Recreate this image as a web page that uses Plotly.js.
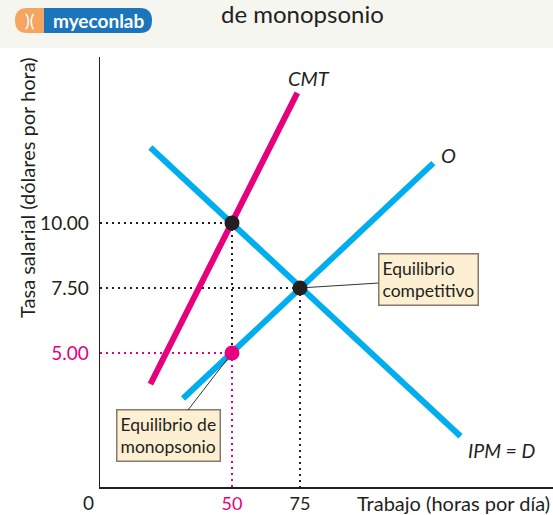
<!DOCTYPE html>
<html>
<head>
<meta charset="utf-8">
<script src="https://cdn.plot.ly/plotly-3.0.1.min.js"></script>
<style>
  body { margin: 0; background: #fff; }
  #chart { width: 553px; height: 515px; }
</style>
</head>
<body>
<div id="chart"></div>
<script>
// Curves (trabajo, salario)
var cmtX = [20, 74];
var cmtY = [3.8, 15];
var demX = [20, 134];
var demY = [12.9, 1.8];
var supX = [32, 124];
var supY = [3.25, 12.3];

// Equilibria
var eqX = [50, 75];
var eqY = [10, 7.5];
var monoX = [50];
var monoY = [5];

// Tick labels
var xTickVals = [50, 75];
var xTickText = ['<span style="color:#e6007e">50</span>', '75'];
var yTickVals = [5, 7.5, 10];
var yTickText = ['<span style="color:#e6007e">5.00</span>', '7.50', '10.00'];

var xRange = [1.47, 168];
var yRange = [-0.154, 16.38];

var blue = '#00aeef';
var pink = '#e6007e';
var ink = '#231f20';
var font = 'Lato, "Open Sans", sans-serif';

// plot area in pixels: l=100, t=57, w=453, h=430
function px(x) { return (x - 100) / 453; }
function py(y) { return (487 - y) / 430; }

function guide(xs, ys, color) {
  return {
    x: xs, y: ys, mode: 'lines', type: 'scatter', hoverinfo: 'skip',
    line: { color: color, width: 2, dash: '2px,4px' }, showlegend: false
  };
}

// text placed by pixel centre
function label(x, y, text, size, extra) {
  return Object.assign({
    xref: 'paper', yref: 'paper', x: px(x), y: py(y), xanchor: 'center', yanchor: 'middle',
    text: text, showarrow: false, font: { family: font, size: size, color: ink }
  }, extra || {});
}

var data = [
  // dotted guides
  guide([xRange[0], eqX[0]], [eqY[0], eqY[0]], ink),
  guide([eqX[0], eqX[0]], [eqY[0], monoY[0]], ink),
  guide([xRange[0], eqX[1]], [eqY[1], eqY[1]], ink),
  guide([eqX[1], eqX[1]], [eqY[1], yRange[0]], ink),
  guide([xRange[0], monoX[0]], [monoY[0], monoY[0]], pink),
  guide([monoX[0], monoX[0]], [monoY[0], yRange[0]], pink),
  // curves
  { x: cmtX, y: cmtY, mode: 'lines', type: 'scatter', line: { color: pink, width: 6 }, showlegend: false },
  { x: demX, y: demY, mode: 'lines', type: 'scatter', line: { color: blue, width: 6 }, showlegend: false },
  { x: supX, y: supY, mode: 'lines', type: 'scatter', line: { color: blue, width: 6 }, showlegend: false },
  // points
  { x: eqX, y: eqY, mode: 'markers', type: 'scatter', marker: { color: ink, size: 15 }, showlegend: false },
  { x: monoX, y: monoY, mode: 'markers', type: 'scatter', marker: { color: pink, size: 15 }, showlegend: false }
];

var boxStyle = {
  bgcolor: '#fdefd2', bordercolor: '#857a6b', borderwidth: 1.5, borderpad: 3,
  align: 'left', showarrow: true, arrowhead: 0, arrowwidth: 1, arrowcolor: '#333',
  font: { family: font, size: 17.5, color: ink }
};

var layout = {
  width: 553,
  height: 515,
  margin: { l: 100, r: 0, t: 57, b: 28 },
  paper_bgcolor: '#ffffff',
  plot_bgcolor: 'rgba(0,0,0,0)',
  font: { family: font, color: ink },
  xaxis: {
    range: xRange, showgrid: false, zeroline: false,
    showline: true, linecolor: ink, linewidth: 1.5,
    tickvals: xTickVals, ticktext: xTickText, ticks: '', ticklabelstandoff: 0,
    tickfont: { family: font, size: 18, color: ink }
  },
  yaxis: {
    range: yRange, showgrid: false, zeroline: false,
    showline: true, linecolor: ink, linewidth: 1.5,
    tickvals: yTickVals, ticktext: yTickText, ticks: '', ticklabelstandoff: 6,
    tickfont: { family: font, size: 19, color: ink }
  },
  shapes: [
    // pale header band
    { type: 'rect', xref: 'paper', yref: 'paper', x0: px(0), x1: px(553), y0: py(0), y1: py(48),
      fillcolor: '#f6f6f1', line: { width: 0 }, layer: 'below' },
    // logo: blue pill
    { type: 'path', xref: 'paper', yref: 'paper',
      path: 'M' + px(40) + ',' + py(8) + ' L' + px(140) + ',' + py(8) +
            ' Q' + px(152) + ',' + py(8) + ' ' + px(152) + ',' + py(20.5) +
            ' Q' + px(152) + ',' + py(33) + ' ' + px(140) + ',' + py(33) +
            ' L' + px(40) + ',' + py(33) + ' Z',
      fillcolor: '#1b75bb', line: { width: 0 } },
    // logo: orange cap
    { type: 'path', xref: 'paper', yref: 'paper',
      path: 'M' + px(27) + ',' + py(8) + ' L' + px(44) + ',' + py(8) +
            ' L' + px(44) + ',' + py(33) + ' L' + px(27) + ',' + py(33) +
            ' Q' + px(15) + ',' + py(33) + ' ' + px(15) + ',' + py(20.5) +
            ' Q' + px(15) + ',' + py(8) + ' ' + px(27) + ',' + py(8) + ' Z',
      fillcolor: '#f5a55f', line: { width: 0 } }
  ],
  annotations: [
    // header
    label(302, 14, 'de monopsonio', 24),
    label(30, 20.5, ')(', 18, { font: { family: font, size: 18, color: '#ffffff' } }),
    label(98, 20.5, '<b>myeconlab</b>', 19, { font: { family: font, size: 19, color: '#ffffff' } }),
    // axis titles
    label(27, 188, 'Tasa salarial (dólares por hora)', 20, { textangle: -90 }),
    label(552, 503, 'Trabajo (horas por día)', 20, { xanchor: 'right' }),
    label(88, 503, '0', 19),
    // curve labels
    label(309, 78, '<i>CMT</i>', 20),
    label(448, 155, '<i>O</i>', 20),
    label(501, 450, '<i>IPM = D</i>', 19.5),
    // boxes
    Object.assign({ x: eqX[1], y: eqY[1], ax: 128, ay: -8, standoff: 7,
      text: 'Equilibrio<br>competitivo' }, boxStyle),
    Object.assign({ x: monoX[0], y: monoY[0], ax: -64, ay: 83, standoff: 7,
      text: 'Equilibrio de<br>monopsonio' }, boxStyle)
  ]
};

Plotly.newPlot('chart', data, layout, { displayModeBar: false, staticPlot: true });
</script>
</body>
</html>
